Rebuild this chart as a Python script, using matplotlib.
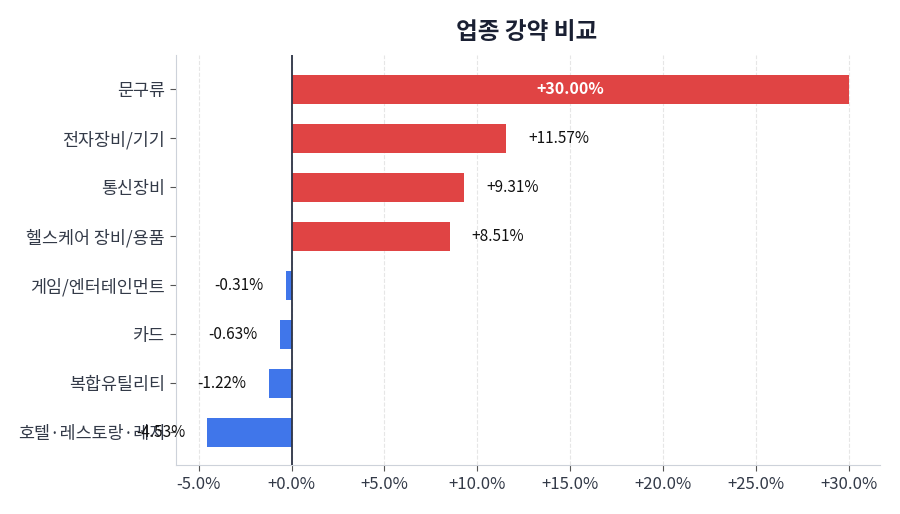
import matplotlib
matplotlib.use("Agg")
import matplotlib.pyplot as plt
from matplotlib.ticker import FuncFormatter

plt.rcParams["font.family"] = ["Noto Sans CJK KR", "DejaVu Sans"]

# ── Data ──────────────────────────────────────────────────────────────────
sectors = ["문구류", "전자장비/기기", "통신장비", "헬스케어 장비/용품",
           "게임/엔터테인먼트", "카드", "복합유틸리티", "호텔·레스토랑·레저"]
changes = [30.00, 11.57, 9.31, 8.51, -0.31, -0.63, -1.22, -4.53]
xticks = [-5, 0, 5, 10, 15, 20, 25, 30]

RED = "#E04444"
BLUE = "#4076EA"

fig, ax = plt.subplots(figsize=(9, 5.14), dpi=100)
fig.subplots_adjust(left=0.195, right=0.978, top=0.893, bottom=0.095)

ypos = list(range(len(sectors)))
colors = [RED if v >= 0 else BLUE for v in changes]
ax.barh(ypos, changes, height=0.58, color=colors, zorder=3)
ax.set_ylim(len(sectors) - 0.33, -0.7)

ax.set_xlim(-6.25, 31.7)
ax.set_xticks(xticks)
ax.xaxis.set_major_formatter(FuncFormatter(lambda v, _: f"{v:+.1f}%"))
ax.set_yticks(ypos)
ax.set_yticklabels(sectors)
ax.tick_params(axis="both", labelsize=12, length=4, colors="#555555",
               labelcolor="#333a48")
ax.tick_params(axis="y", labelsize=12.5)

ax.grid(axis="x", linestyle="--", color="#e6e6e6", linewidth=0.8, zorder=0)
ax.axvline(0, color="#2c3345", linewidth=1.3, zorder=4)

for s in ("top", "right"):
    ax.spines[s].set_visible(False)
for s in ("left", "bottom"):
    ax.spines[s].set_color("#cdd2da")

vmax = max(changes)
for y, v in zip(ypos, changes):
    label = f"{v:+.2f}%"
    if v == vmax:
        ax.text(v / 2, y, label, ha="center", va="center", color="white",
                fontsize=11.5, fontweight="bold", zorder=5)
    elif v >= 0:
        ax.text(v + 1.2, y, label, ha="left", va="center", color="#111111",
                fontsize=11, zorder=5)
    else:
        ax.text(v - 1.2, y, label, ha="right", va="center", color="#111111",
                fontsize=11, zorder=5)

fig.suptitle("업종 강약 비교", fontsize=17, fontweight="bold", color="#1a2033",
             x=0.585, y=0.962)

fig.savefig("out.png", dpi=100)
